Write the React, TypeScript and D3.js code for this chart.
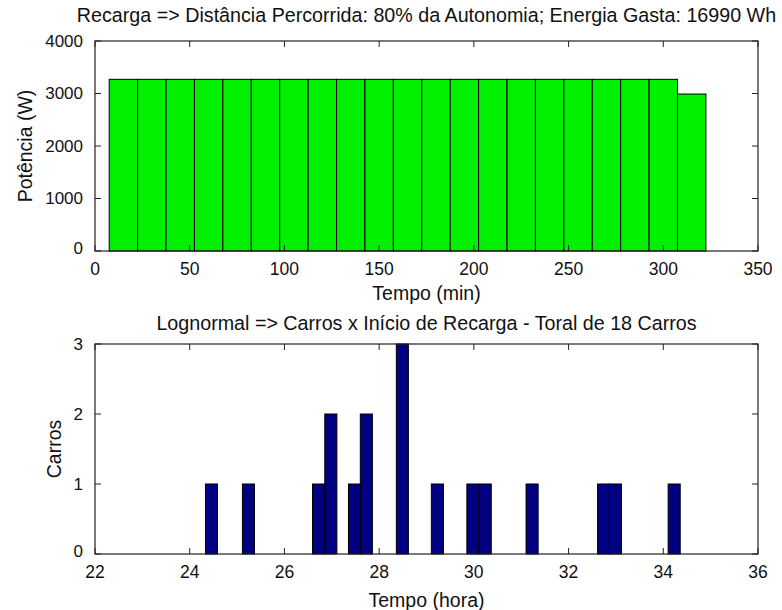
import React from "react";
import * as d3 from "d3";

// ---- Data ----
const powerTimes = [15, 30, 45, 60, 75, 90, 105, 120, 135, 150, 165, 180, 195, 210, 225, 240, 255, 270, 285, 300, 315];
const powerValues = [3270, 3270, 3270, 3270, 3270, 3270, 3270, 3270, 3270, 3270, 3270, 3270, 3270, 3270, 3270, 3270, 3270, 3270, 3270, 3270, 2990];
const powerBinWidth = 15;
const topXTicks = [0, 50, 100, 150, 200, 250, 300, 350];
const topYTicks = [0, 1000, 2000, 3000, 4000];

const startHours = [24.46, 25.24, 26.72, 26.98, 27.48, 27.73, 28.49, 29.23, 29.98, 30.24, 31.23, 32.74, 32.99, 34.23];
const carCounts = [1, 1, 1, 2, 1, 2, 3, 1, 1, 1, 1, 1, 1, 1];
const hourBinWidth = 0.255;
const botXTicks = [22, 24, 26, 28, 30, 32, 34, 36];
const botYTicks = [0, 1, 2, 3];

const topTitle = "Recarga => Distância Percorrida: 80% da Autonomia; Energia Gasta: 16990 Wh";
const botTitle = "Lognormal => Carros x Início de Recarga - Toral de 18 Carros";

const W = 782;
const H = 610;
const FONT = "'Liberation Sans', Arial, sans-serif";
const TICK = 6;

function Txt(props: { x: number; y: number; size: number; anchor?: string; rotate?: boolean; children: React.ReactNode }) {
  const { x, y, size, anchor = "middle", rotate, children } = props;
  const t = rotate ? `translate(${x},${y}) rotate(-90)` : `translate(${x},${y})`;
  return (
    <text transform={t} fontSize={size} fontFamily={FONT} textAnchor={anchor} dominantBaseline="central" fill="#111">
      {children}
    </text>
  );
}

function Panel(props: {
  top: number;
  bottom: number;
  xDomain: [number, number];
  yDomain: [number, number];
  xs: number[];
  ys: number[];
  bw: number;
  fill: string;
  xTicks: number[];
  yTicks: number[];
  title: string;
  titleY: number;
  xLabel: string;
  xLabelOffset: number;
  yLabel: string;
  yLabelX: number;
}) {
  const left = 95;
  const right = 758;
  const x = d3.scaleLinear().domain(props.xDomain).range([left, right]);
  const y = d3.scaleLinear().domain(props.yDomain).range([props.bottom, props.top]);
  return (
    <g>
      {props.xs.map((v, i) => (
        <rect
          key={i}
          x={x(v - props.bw / 2)}
          y={y(props.ys[i])}
          width={x(v + props.bw / 2) - x(v - props.bw / 2)}
          height={y(0) - y(props.ys[i])}
          fill={props.fill}
          stroke="#000"
          strokeWidth={1}
        />
      ))}
      <rect x={left} y={props.top} width={right - left} height={props.bottom - props.top} fill="none" stroke="#222" strokeWidth={1.2} />
      {props.xTicks.map((t) => (
        <g key={"x" + t}>
          <line x1={x(t)} x2={x(t)} y1={props.bottom} y2={props.bottom - TICK} stroke="#222" />
          <line x1={x(t)} x2={x(t)} y1={props.top} y2={props.top + TICK} stroke="#222" />
          <Txt x={x(t)} y={props.bottom + 18} size={17.5}>{t}</Txt>
        </g>
      ))}
      {props.yTicks.map((t) => (
        <g key={"y" + t}>
          <line x1={left} x2={left + TICK} y1={y(t)} y2={y(t)} stroke="#222" />
          <line x1={right} x2={right - TICK} y1={y(t)} y2={y(t)} stroke="#222" />
          <Txt x={left - 12} y={t === props.yDomain[0] ? y(t) - 3 : y(t)} size={17} anchor="end">{t}</Txt>
        </g>
      ))}
      <Txt x={(left + right) / 2} y={props.titleY} size={19.7}>{props.title}</Txt>
      <Txt x={(left + right) / 2} y={props.bottom + props.xLabelOffset} size={19.5}>{props.xLabel}</Txt>
      <Txt x={props.yLabelX} y={(props.top + props.bottom) / 2} size={19.5} rotate>{props.yLabel}</Txt>
    </g>
  );
}

export default function App() {
  return (
    <svg width={W} height={H} style={{ position: "absolute", left: 0, top: 0, background: "#fff" }}>
      <rect x={0} y={0} width={W} height={H} fill="#fff" />
      <Panel
        top={41}
        bottom={251}
        xDomain={[0, 350]}
        yDomain={[0, 4000]}
        xs={powerTimes}
        ys={powerValues}
        bw={powerBinWidth}
        fill="#00f000"
        xTicks={topXTicks}
        yTicks={topYTicks}
        title={topTitle}
        titleY={15}
        xLabel="Tempo (min)"
        xLabelOffset={42}
        yLabel="Potência (W)"
        yLabelX={25}
      />
      <Panel
        top={344}
        bottom={554}
        xDomain={[22, 36]}
        yDomain={[0, 3]}
        xs={startHours}
        ys={carCounts}
        bw={hourBinWidth}
        fill="#000080"
        xTicks={botXTicks}
        yTicks={botYTicks}
        title={botTitle}
        titleY={323}
        xLabel="Tempo (hora)"
        xLabelOffset={46}
        yLabel="Carros"
        yLabelX={54}
      />
    </svg>
  );
}
